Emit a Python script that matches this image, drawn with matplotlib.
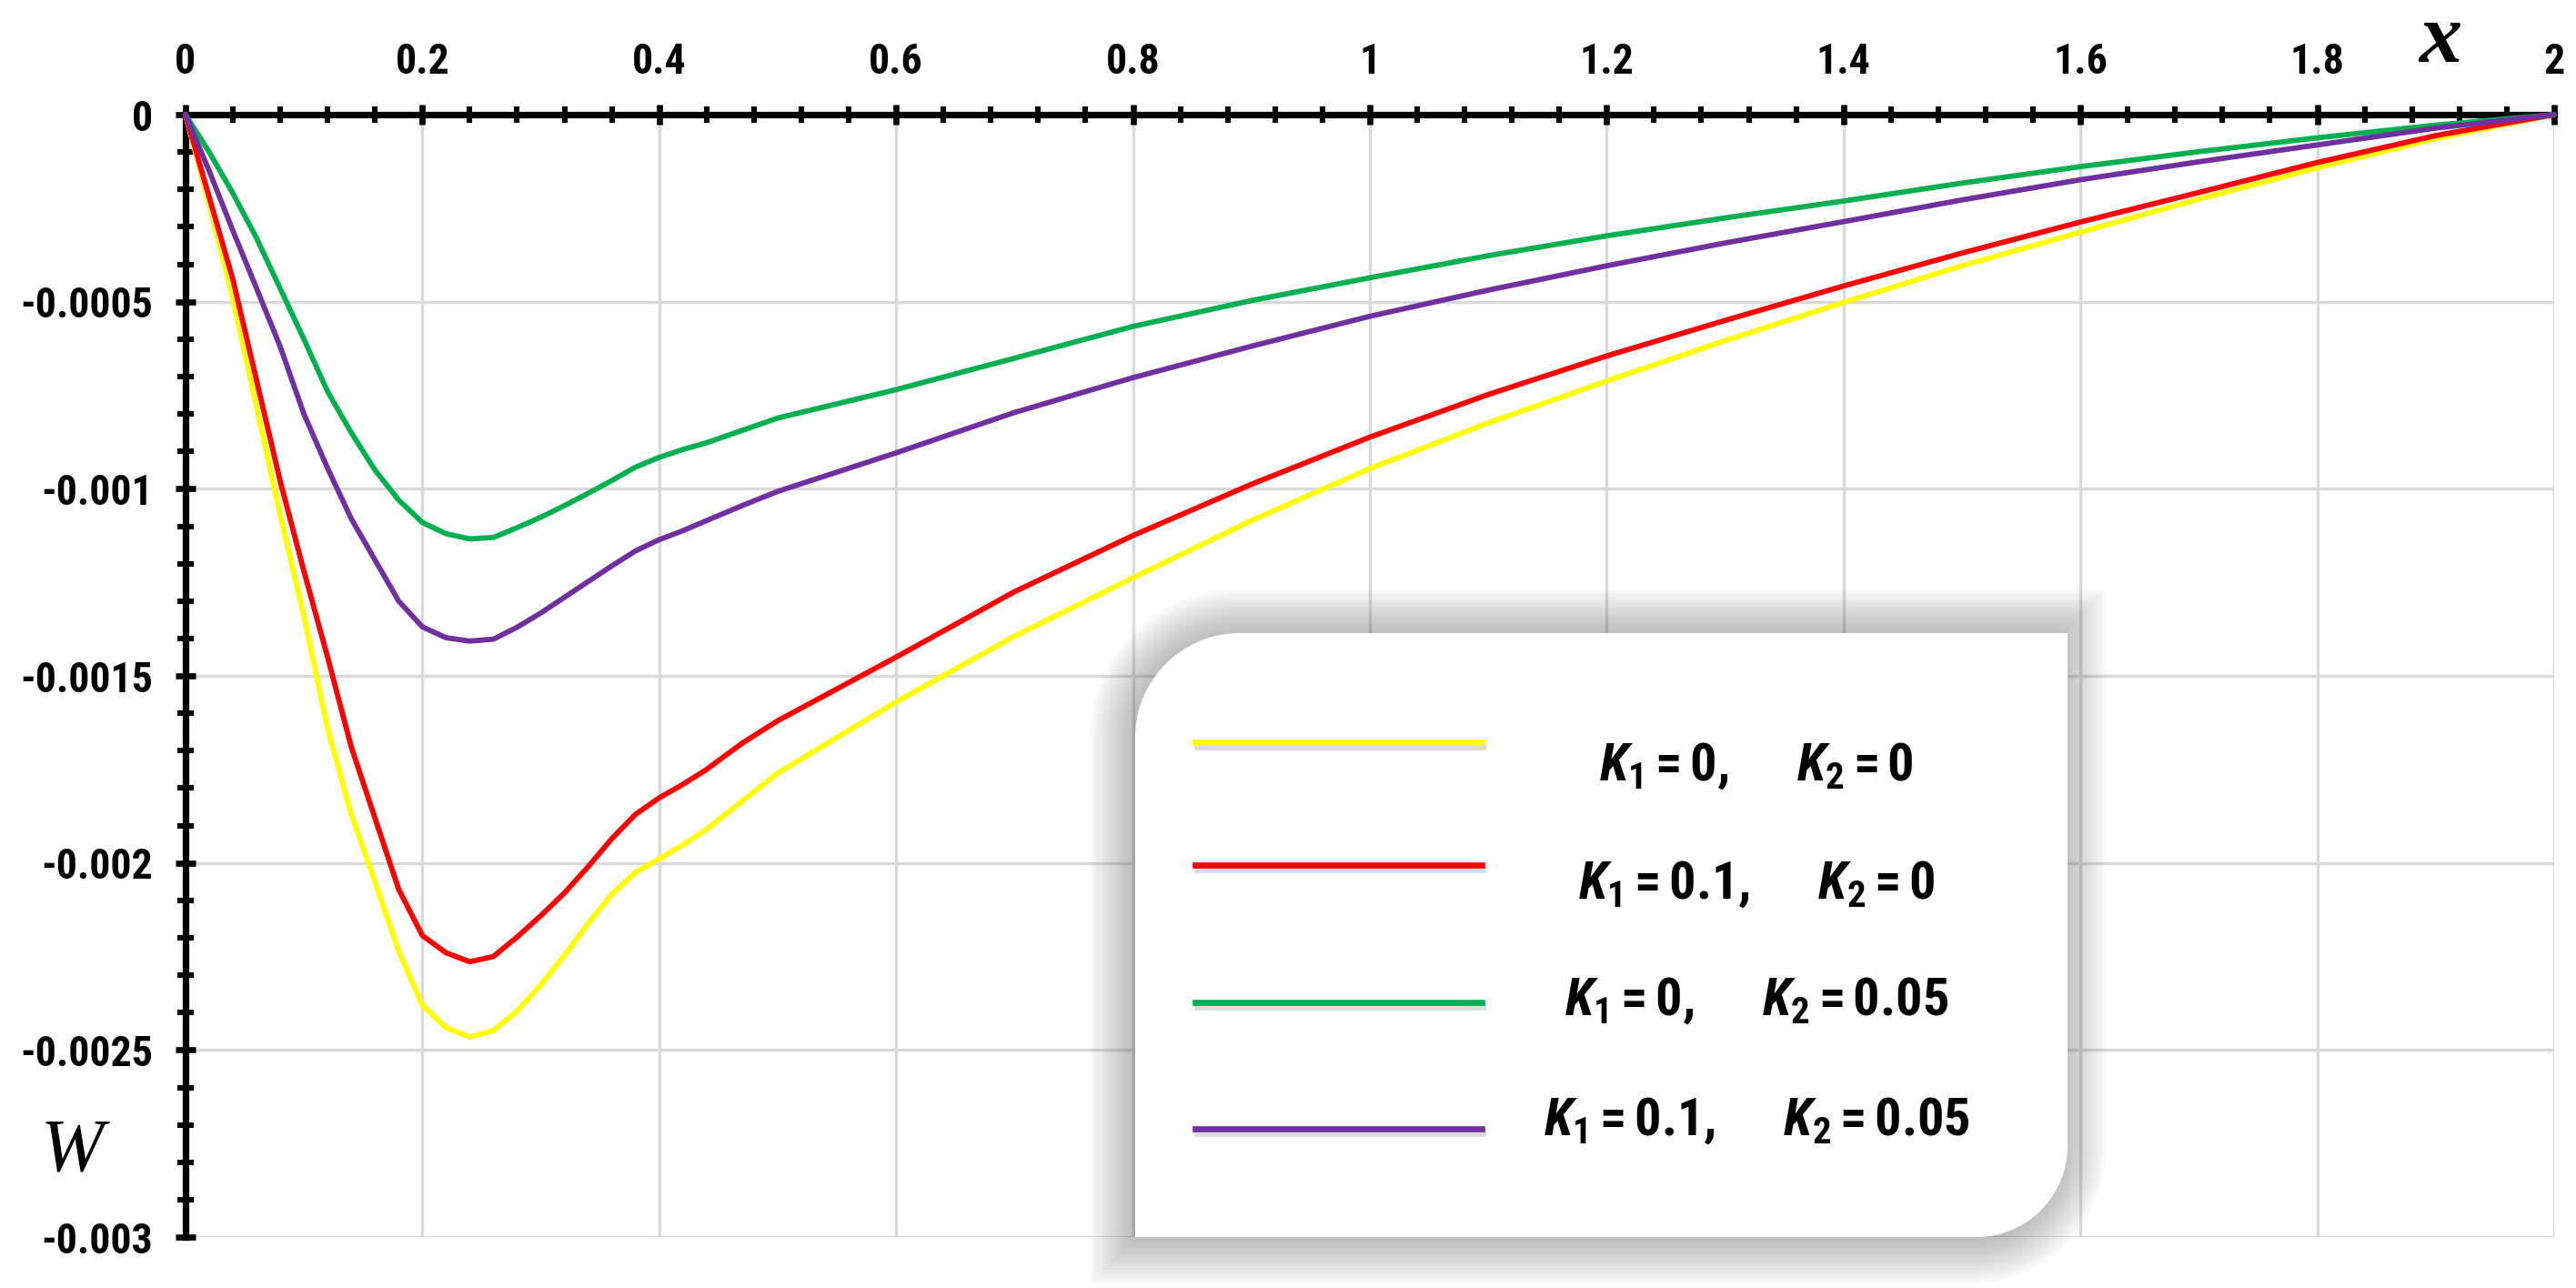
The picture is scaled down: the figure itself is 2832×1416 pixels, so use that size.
import numpy as np
import matplotlib
matplotlib.use("Agg")
import matplotlib.pyplot as plt
from matplotlib import font_manager
from matplotlib.path import Path
from matplotlib.patches import PathPatch
from matplotlib.lines import Line2D
from matplotlib.transforms import IdentityTransform
from matplotlib.ticker import MultipleLocator, FixedLocator

# values
x = [0, 0.02, 0.04, 0.06, 0.08, 0.10, 0.12, 0.14, 0.16, 0.18, 0.20, 0.22, 0.24,
     0.26, 0.28, 0.30, 0.32, 0.34, 0.36, 0.38, 0.40, 0.42, 0.44, 0.47, 0.5,
     0.6, 0.7, 0.8, 0.9, 1.0, 1.1, 1.2, 1.3, 1.4, 1.5, 1.6, 1.7, 1.8, 1.9, 2.0]

w_k1_0_k2_0 = [0, -0.00024, -0.00049, -0.00078, -0.00107, -0.00134, -0.00164,
               -0.00187, -0.00205, -0.002235, -0.00238, -0.00244, -0.002465,
               -0.002448, -0.002396, -0.002326, -0.002247, -0.002162, -0.002084,
               -0.002025, -0.001989, -0.001952, -0.00191, -0.001835, -0.00176,
               -0.00157, -0.001394, -0.001238, -0.001085, -0.000946, -0.000824,
               -0.000712, -0.000604, -0.000502, -0.000404, -0.000314, -0.000226,
               -0.000142, -0.000064, 0]
w_k1_01_k2_0 = [0, -0.00022, -0.00044, -0.00071, -0.00098, -0.00122, -0.00145,
                -0.00169, -0.00188, -0.00207, -0.002194, -0.00224, -0.002264,
                -0.00225, -0.002198, -0.002141, -0.00208, -0.00201, -0.001935,
                -0.00187, -0.001826, -0.00179, -0.00175, -0.00168, -0.00162,
                -0.00145, -0.001275, -0.001125, -0.000988, -0.000862, -0.000748,
                -0.000645, -0.00055, -0.000458, -0.00037, -0.000287, -0.000208,
                -0.000128, -0.000056, 0]
w_k1_0_k2_005 = [0, -0.0001, -0.00021, -0.00033, -0.000465, -0.0006, -0.00074,
                 -0.00085, -0.00095, -0.00103, -0.00109, -0.00112, -0.001134,
                 -0.00113, -0.001104, -0.001076, -0.001045, -0.001012, -0.000978,
                 -0.000942, -0.000916, -0.000895, -0.000877, -0.000844, -0.000811,
                 -0.000735, -0.000651, -0.000566, -0.000497, -0.000436, -0.000377,
                 -0.000324, -0.000276, -0.000231, -0.000183, -0.000139, -0.000099,
                 -0.000062, -0.000028, 0]
w_k1_01_k2_005 = [0, -0.00015, -0.00031, -0.000464, -0.00062, -0.0008, -0.000945,
                  -0.00108, -0.00119, -0.0013, -0.001369, -0.001398, -0.001407,
                  -0.001402, -0.00137, -0.001332, -0.00129, -0.001248, -0.001206,
                  -0.001166, -0.001136, -0.001112, -0.001085, -0.001045, -0.001007,
                  -0.000904, -0.000796, -0.000703, -0.000619, -0.000539, -0.000469,
                  -0.000404, -0.000343, -0.000286, -0.000228, -0.000174, -0.000126,
                  -0.000081, -0.000036, 0]

series = [w_k1_0_k2_0, w_k1_01_k2_0, w_k1_0_k2_005, w_k1_01_k2_005]
colors = ["#FFFF00", "#FF0000", "#00B050", "#7030A0"]
labels = [r"$K_1 = 0,\quad\;\; K_2 = 0$",
          r"$K_1 = 0.1,\quad\;\; K_2 = 0$",
          r"$K_1 = 0,\quad\;\; K_2 = 0.05$",
          r"$K_1 = 0.1,\quad\;\; K_2 = 0.05$"]

x_ticks = [0, 0.2, 0.4, 0.6, 0.8, 1.0, 1.2, 1.4, 1.6, 1.8, 2.0]
x_ticklabels = ["0", "0.2", "0.4", "0.6", "0.8", "1", "1.2", "1.4", "1.6", "1.8", "2"]
y_ticks = [0, -0.0005, -0.001, -0.0015, -0.002, -0.0025, -0.003]
y_ticklabels = ["0", "-0.0005", "-0.001", "-0.0015", "-0.002", "-0.0025", "-0.003"]

# pick a narrow face if one is installed
fonts = font_manager.fontManager.ttflist
names = {f.name for f in fonts}
narrow, stretch = "Liberation Sans", "normal"
for cand in ["Liberation Sans Narrow", "Roboto Condensed", "Open Sans Condensed"]:
    if cand in names:
        narrow = cand
        break
else:
    if any(f.name == "DejaVu Sans" and f.stretch == "condensed" for f in fonts):
        narrow, stretch = "DejaVu Sans", "condensed"
serif = "Liberation Serif" if "Liberation Serif" in names else "DejaVu Serif"

plt.rcParams["mathtext.fontset"] = "custom"
plt.rcParams["mathtext.it"] = narrow + ":italic:bold"
plt.rcParams["mathtext.rm"] = narrow + ":bold"
plt.rcParams["mathtext.bf"] = narrow + ":bold"

DPI = 200
W_PX, H_PX = 2832, 1416
fig = plt.figure(figsize=(W_PX / DPI, H_PX / DPI), dpi=DPI)
ax = fig.add_axes([0.072, 0.0395, 0.9195, 0.8715])

for ys, c in zip(series, colors):
    ax.plot(x, ys, color=c, lw=2.1, clip_on=False, zorder=5,
            solid_capstyle="round", solid_joinstyle="round")

ax.set_xlim(0, 2)
ax.set_ylim(-0.003, 0)

ax.xaxis.set_major_locator(FixedLocator(x_ticks))
ax.xaxis.set_minor_locator(MultipleLocator(0.04))
ax.yaxis.set_major_locator(FixedLocator(y_ticks))
ax.yaxis.set_minor_locator(MultipleLocator(0.0001))
ax.set_xticklabels(x_ticklabels)
ax.set_yticklabels(y_ticklabels)

ax.xaxis.tick_top()
for s in ["right", "bottom"]:
    ax.spines[s].set_visible(False)
for s in ["top", "left"]:
    ax.spines[s].set_linewidth(2.6)
    ax.spines[s].set_zorder(4)

ax.tick_params(which="major", direction="inout", length=8, width=2.4, color="black")
ax.tick_params(which="minor", direction="inout", length=6.5, width=2.2, color="black")
ax.tick_params(axis="x", which="major", pad=9)
ax.tick_params(axis="y", which="major", pad=9)
for lab in ax.get_xticklabels() + ax.get_yticklabels():
    lab.set_fontfamily(narrow)
    lab.set_fontstretch(stretch)
    lab.set_fontweight("bold")
    lab.set_fontsize(16.5)

ax.grid(True, which="major", color="#d9d9d9", lw=1.2)
ax.set_axisbelow(True)

fig.text(2683 / W_PX, 1 - 46 / H_PX, "x", family=serif, style="italic",
         weight="bold", fontsize=34, ha="center", va="center")
fig.text(79 / W_PX, 1 - 1267 / H_PX, "W", family=serif, style="italic",
         fontsize=30, ha="center", va="center")


def box_path(x0, y0, x1, y1, r_tl, r_br):
    k = 0.5523
    verts = [(x0, y0), (x1 - r_br, y0),
             (x1 - r_br + k * r_br, y0), (x1, y0 + r_br - k * r_br), (x1, y0 + r_br),
             (x1, y1), (x0 + r_tl, y1),
             (x0 + r_tl - k * r_tl, y1), (x0, y1 - r_tl + k * r_tl), (x0, y1 - r_tl),
             (x0, y0)]
    codes = [Path.MOVETO, Path.LINETO,
             Path.CURVE4, Path.CURVE4, Path.CURVE4,
             Path.LINETO, Path.LINETO,
             Path.CURVE4, Path.CURVE4, Path.CURVE4,
             Path.CLOSEPOLY]
    return Path(verts, codes)


# legend box in pixel coords (origin bottom-left), soft shadow behind it
bx0, bx1 = 1248, 2273
by0, by1 = H_PX - 1360, H_PX - 696
for i in range(16, 0, -1):
    d = i * 3
    p = box_path(bx0 - d - 2, by0 - d - 3, bx1 + d - 6, by1 + d, 115 + d, 100 + d)
    fig.add_artist(PathPatch(p, facecolor="#606060", edgecolor="none", alpha=0.026,
                             transform=IdentityTransform(), zorder=6))
fig.add_artist(PathPatch(box_path(bx0, by0, bx1, by1, 115, 100), facecolor="white",
                         edgecolor="none", transform=IdentityTransform(), zorder=7))

row_y = [816, 951, 1102, 1241]
text_y = [841, 972, 1100, 1231]
for c, lab, ly, ty in zip(colors, labels, row_y, text_y):
    fig.add_artist(Line2D([1316, 1630], [H_PX - ly - 5, H_PX - ly - 5], color="#999999",
                          lw=2.4, alpha=0.35, transform=IdentityTransform(), zorder=8))
    fig.add_artist(Line2D([1314, 1629], [H_PX - ly, H_PX - ly], color=c, lw=2.4,
                          transform=IdentityTransform(), zorder=9))
    fig.text(1931 / W_PX, 1 - ty / H_PX, lab, fontsize=21, ha="center", va="center",
             zorder=9)

fig.savefig("out.png", dpi=DPI, facecolor="white")
